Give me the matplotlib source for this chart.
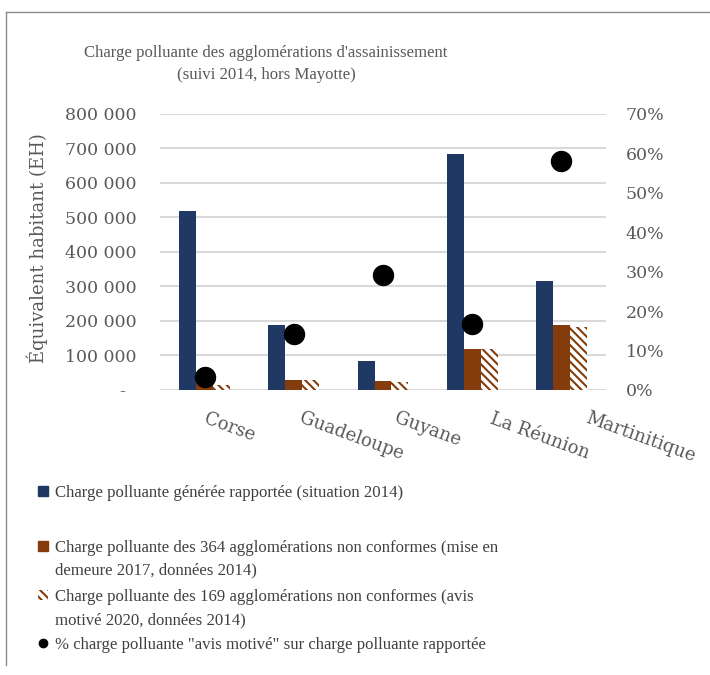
import matplotlib
matplotlib.use("Agg")
import matplotlib.pyplot as plt
import matplotlib.transforms as mtransforms
import numpy as np
from matplotlib.patches import Patch
from matplotlib.lines import Line2D
from matplotlib.ticker import FuncFormatter, MultipleLocator

categories = ["Corse", "Guadeloupe", "Guyane", "La Réunion", "Martinitique"]
charge_generee = [520000, 189000, 85000, 684000, 315000]
charge_364 = [19000, 29000, 25000, 118000, 189000]
charge_169 = [15000, 29000, 24000, 118000, 184000]
pct_avis = [0.034, 0.141, 0.291, 0.168, 0.581]

labels = [
    ["Charge polluante générée rapportée (situation 2014)"],
    ["Charge polluante des 364 agglomérations non conformes (mise en", "demeure 2017, données 2014)"],
    ["Charge polluante des 169 agglomérations non conformes (avis", "motivé 2020, données 2014)"],
    ['% charge polluante "avis motivé" sur charge polluante rapportée'],
]
title = "Charge polluante des agglomérations d'assainissement\n(suivi 2014, hors Mayotte)"
ylabel = "Équivalent habitant (EH)"

BLUE = "#203864"
ORANGE = "#843C0C"
GRAY = "#595959"
NARROW = ["Liberation Serif", "DejaVu Serif"]
WIDE = ["DejaVu Serif"]
HATCH = "\\\\\\\\"

plt.rcParams["font.family"] = NARROW
plt.rcParams["hatch.linewidth"] = 1.5

W, H = 710, 675
fig = plt.figure(figsize=(W / 100, H / 100), dpi=100)
ax = fig.add_axes([160 / W, 1 - 390 / H, 446 / W, 276 / H])

x = np.arange(len(categories))
bw = 0.19
ax.bar(x - bw, charge_generee, bw, color=BLUE, zorder=2)
ax.bar(x, charge_364, bw, color=ORANGE, zorder=2)
ax.bar(x + bw, charge_169, bw, color="white", edgecolor=ORANGE, hatch=HATCH, linewidth=0, zorder=2)

ax.set_xlim(-0.5, len(categories) - 0.5)
ax.set_ylim(0, 800000)
ax.yaxis.set_major_locator(MultipleLocator(100000))
ax.yaxis.set_major_formatter(FuncFormatter(lambda v, p: "-  " if v == 0 else f"{int(v):,}".replace(",", " ")))
ax.grid(axis="y", color="#d9d9d9", linewidth=1.5, zorder=0)
ax.set_axisbelow(True)
for s in ax.spines.values():
    s.set_visible(False)
ax.tick_params(axis="y", length=0, pad=17, labelsize=12.5, labelcolor=GRAY)
ax.tick_params(axis="x", length=0, pad=14)
for t in ax.get_yticklabels():
    t.set_family(WIDE)
ax.set_xticks(x)
ax.set_xticklabels(categories, rotation=-20, ha="left", va="top", rotation_mode="anchor",
                   fontsize=13, color=GRAY, family=WIDE)
for i, t in enumerate(ax.get_xticklabels()):
    dx = (3 + 6.3 * i) / 100.0
    t.set_transform(t.get_transform() + mtransforms.ScaledTranslation(dx, 0, fig.dpi_scale_trans))
yl = ax.set_ylabel(ylabel, fontsize=13, color=GRAY, family=WIDE)
yl.set_va("center")
ax.yaxis.set_label_coords((37 - 160) / 446, 0.515)

ax2 = ax.twinx()
ax2.plot(x, pct_avis, "o", color="black", markersize=14.4, linestyle="none", zorder=3)
ax2.set_ylim(0, 0.7)
ax2.yaxis.set_major_locator(MultipleLocator(0.1))
ax2.yaxis.set_major_formatter(FuncFormatter(lambda v, p: f"{v*100:.0f}%"))
for s in ax2.spines.values():
    s.set_visible(False)
ax2.tick_params(axis="y", length=0, pad=14, labelsize=12.5, labelcolor=GRAY)
for t in ax2.get_yticklabels():
    t.set_family(WIDE)

fig.text(266 / W, 1 - 64 / H, title, ha="center", va="center", fontsize=12.1, color=GRAY,
         linespacing=1.5)

handles = [
    Patch(facecolor=BLUE, edgecolor=BLUE),
    Patch(facecolor=ORANGE, edgecolor=ORANGE),
    Patch(facecolor="white", edgecolor=ORANGE, hatch=HATCH, linewidth=0),
    Line2D([], [], marker="o", color="black", linestyle="none", markersize=6),
]
row_y = [493, 548, 597, 645]
cont_y = [None, 570, 620, None]
for h, lab, ry, cy in zip(handles, labels, row_y, cont_y):
    leg = fig.legend([h], [lab[0]], loc="center left", bbox_to_anchor=(38 / W, 1 - ry / H),
                     frameon=False, fontsize=12.1, borderpad=0, borderaxespad=0,
                     handlelength=0.6, handleheight=0.6, handletextpad=0.4)
    leg.get_texts()[0].set_color("#404040")
    if cy is not None:
        fig.text(55 / W, 1 - cy / H, lab[1], ha="left", va="center", fontsize=12.1, color="#404040")

fig.add_artist(Line2D([6 / W, 6 / W], [1 - 12 / H, 1 - 665 / H], transform=fig.transFigure,
                      color="#8c8c8c", linewidth=1))
fig.add_artist(Line2D([6 / W, 1], [1 - 12 / H, 1 - 12 / H], transform=fig.transFigure,
                      color="#8c8c8c", linewidth=1))

fig.savefig("out.png", dpi=100)
